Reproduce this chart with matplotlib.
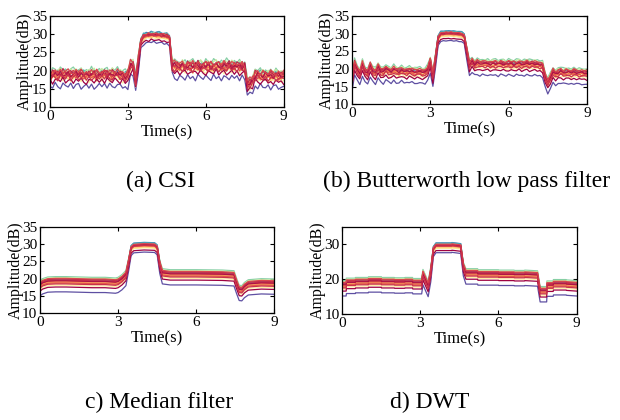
import numpy as np
import matplotlib
matplotlib.use("Agg")
import matplotlib.pyplot as plt

plt.rcParams['font.family'] = ['Liberation Serif', 'DejaVu Serif']

# time grid of the raw CSI and Butterworth panels (0.1 s)
time = np.round(np.arange(0, 9.05, 0.1), 2)

# mean amplitude of the subcarriers (dB)
csi_mean = [18.2, 18.6, 18.8, 18.6, 18.7, 18.9, 18.6, 18.7, 18.5, 18.6,
            18.8, 18.7, 18.5, 18.6, 18.4, 18.5, 18.7, 18.6, 18.4, 18.5,
            18.7, 18.8, 18.6, 18.5, 18.6, 18.8, 18.7, 18.5, 18.4, 18.3,
            18.4, 21.2, 21.4, 17.0, 22.5, 27.9, 29.1, 29.4, 29.5, 29.6,
            29.6, 29.5, 29.5, 29.4, 29.3, 29.2, 28.7, 21.6, 21.0, 20.9,
            21.0, 20.9, 20.8, 21.0, 20.9, 20.8, 20.9, 21.0, 20.8, 20.9,
            21.0, 20.9, 20.8, 20.9, 21.0, 20.9, 20.8, 20.9, 21.0, 20.9,
            20.8, 20.9, 21.0, 20.9, 20.8, 20.6, 16.0, 16.3, 17.0, 18.4,
            18.5, 18.4, 18.3, 18.5, 18.4, 18.3, 18.4, 18.2, 18.3, 18.2,
            18.1]

butter_mean = [16.3, 21.3, 19.4, 18.4, 21.0, 19.0, 18.5, 20.6, 19.0, 18.6,
               20.2, 19.0, 18.7, 19.8, 19.0, 18.8, 19.5, 19.0, 18.8, 19.3,
               18.9, 18.8, 19.1, 18.9, 18.7, 18.9, 18.8, 18.6, 18.6, 19.6,
               21.8, 17.6, 23.0, 28.5, 29.6, 29.7, 29.8, 29.8, 29.8, 29.7,
               29.7, 29.6, 29.5, 29.0, 25.0, 20.8, 21.8, 20.9, 21.3, 21.0,
               21.2, 21.0, 21.1, 20.9, 21.1, 21.0, 20.9, 21.1, 21.0, 20.9,
               21.1, 21.0, 20.9, 21.0, 21.1, 20.9, 21.0, 21.1, 20.9, 21.0,
               21.0, 20.9, 20.8, 20.6, 17.5, 15.8, 17.2, 18.8, 18.2, 18.6,
               18.9, 18.5, 18.7, 18.6, 18.5, 18.7, 18.6, 18.4, 18.5, 18.4,
               18.3]

# per-sample jitter (dB, shifted per subcarrier)
jitter = [0.3, -0.6, 0.8, -0.2, -0.9, 0.5, 0.1, -0.4, 0.9, -0.7,
          0.2, 0.6, -0.8, -0.1, 0.7, -0.5, 0.4, -0.9, 0.0, 0.8,
          -0.3, 0.5, -0.6, 0.9, -0.2, -0.7, 0.3, 0.6, -0.4, 0.1,
          -0.8, 0.7, -0.1, 0.4, -0.5, 0.9, -0.9, 0.2, 0.5, -0.3,
          0.8, -0.6, 0.0, 0.6, -0.7, 0.3, -0.2, 0.9, -0.4, -0.8,
          0.5, 0.1, -0.6, 0.7, -0.3, 0.4, -0.9, 0.8, 0.2, -0.5,
          0.6, -0.1, -0.7, 0.9, -0.4, 0.3, -0.8, 0.5, 0.0, -0.6,
          0.7, -0.2, 0.4, -0.9, 0.8, -0.3, 0.1, 0.6, -0.5, 0.2,
          -0.7, 0.9, -0.1, -0.4, 0.5, -0.8, 0.3, 0.7, -0.6, 0.0,
          0.4]

# median filter: smooth profile key points
median_t = [0.0, 0.1, 0.3, 0.6, 1.0, 1.5, 2.0, 2.5, 2.9, 3.0, 3.15, 3.3, 3.4,
            3.5, 3.6, 4.0, 4.4, 4.5, 4.6, 4.7, 5.0, 6.0, 7.0, 7.45, 7.55,
            7.65, 7.75, 7.85, 8.0, 8.5, 9.0]
median_v = [17.8, 18.4, 18.9, 19.0, 19.0, 18.9, 18.8, 18.8, 18.6, 18.8, 19.6,
            20.8, 24.5, 28.6, 29.3, 29.5, 29.4, 28.8, 24.0, 21.3, 21.0, 21.0,
            20.9, 20.7, 18.5, 16.5, 16.4, 17.3, 18.1, 18.4, 18.3]

# DWT: step-like profile key points
dwt_t = [0.0, 0.15, 0.16, 0.5, 0.51, 1.0, 1.01, 1.5, 1.51, 2.0, 2.01, 2.4,
         2.41, 2.7, 2.71, 3.05, 3.1, 3.2, 3.3, 3.4, 3.5, 3.6, 4.2, 4.21,
         4.55, 4.65, 4.75, 5.2, 5.21, 6.0, 6.01, 6.6, 6.61, 7.0, 7.01, 7.5,
         7.6, 7.85, 7.86, 8.1, 8.11, 8.6, 8.61, 9.0]
dwt_v = [18.0, 18.0, 18.7, 18.7, 18.9, 18.9, 19.1, 19.1, 18.9, 18.9, 18.8,
         18.8, 18.9, 18.9, 18.6, 18.6, 21.2, 19.5, 17.8, 22.0, 28.4, 29.4,
         29.4, 29.5, 29.2, 23.5, 21.4, 21.4, 21.1, 21.1, 21.0, 21.0, 20.9,
         20.9, 21.0, 20.8, 16.3, 16.3, 17.9, 17.9, 18.3, 18.3, 18.2, 18.0]

# subcarriers: colour position in Spectral, offset at rest and during the peak
sub_color = [1.00, 0.92, 0.85, 0.75, 0.65, 0.55, 0.45, 0.38, 0.30, 0.22,
             0.16, 0.10, 0.06, 0.03, 0.00, 0.12, 0.08]
sub_rest = [-2.8, 0.6, 0.9, 1.6, 1.3, 0.2, -0.9, -0.4, 0.0, 0.3,
            -0.2, 0.6, 0.9, 0.4, -1.4, 1.1, -0.5]
sub_peak = [-1.8, 1.0, 0.9, 0.6, 0.4, -0.3, -0.6, -0.4, -0.1, 0.0,
            0.2, 0.3, 0.5, 0.4, -1.2, 0.6, 0.1]

cmap = plt.get_cmap('Spectral')


def draw_lines(ax, t, mean, jit_amp):
    mean = np.array(mean)
    w = np.clip((mean - 21.5) / 8.0, 0, 1)
    jit = np.array(jitter)
    for i in range(len(sub_color)):
        y = mean + sub_rest[i] * (1 - w) + sub_peak[i] * w
        if jit_amp > 0:
            s = np.roll(jit, 17 * i) * (1 if i % 2 == 0 else -1)
            y = y + s * jit_amp * (1 - 0.65 * w)
        ax.plot(t, y, color=cmap(sub_color[i]), lw=0.9)


def style(ax, yticks):
    ax.set_xlim(0, 9)
    ax.set_ylim(10, 35)
    ax.set_xticks([0, 3, 6, 9])
    ax.set_yticks(yticks)
    ax.tick_params(direction='in', top=True, right=True, length=3,
                   labelsize=11, pad=2)
    ax.set_xlabel('Time(s)', fontsize=12, labelpad=1)
    ax.set_ylabel('Amplitude(dB)', fontsize=11.5, labelpad=-1)
    for sp in ax.spines.values():
        sp.set_linewidth(0.9)


fig = plt.figure(figsize=(6.2, 4.2), dpi=100)

ax1 = fig.add_axes([0.0806, 0.745, 0.377, 0.217])
draw_lines(ax1, time, csi_mean, 1.0)
style(ax1, [10, 15, 20, 25, 30, 35])

ax2 = fig.add_axes([0.5677, 0.752, 0.379, 0.21])
draw_lines(ax2, time, butter_mean, 0.35)
style(ax2, [10, 15, 20, 25, 30, 35])

ax3 = fig.add_axes([0.0645, 0.254, 0.378, 0.206])
draw_lines(ax3, median_t, median_v, 0)
style(ax3, [10, 15, 20, 25, 30, 35])

ax4 = fig.add_axes([0.552, 0.252, 0.378, 0.208])
draw_lines(ax4, dwt_t, dwt_v, 0)
style(ax4, [10, 20, 30])

fig.text(161 / 620, 1 - 181 / 420, '(a) CSI', fontsize=17, ha='center', va='center')
fig.text(467 / 620, 1 - 181 / 420, '(b) Butterworth low pass filter', fontsize=17,
         ha='center', va='center')
fig.text(159 / 620, 1 - 402 / 420, 'c) Median filter', fontsize=17, ha='center', va='center')
fig.text(430 / 620, 1 - 402 / 420, 'd) DWT', fontsize=17, ha='center', va='center')

fig.savefig('out.png', dpi=100)
